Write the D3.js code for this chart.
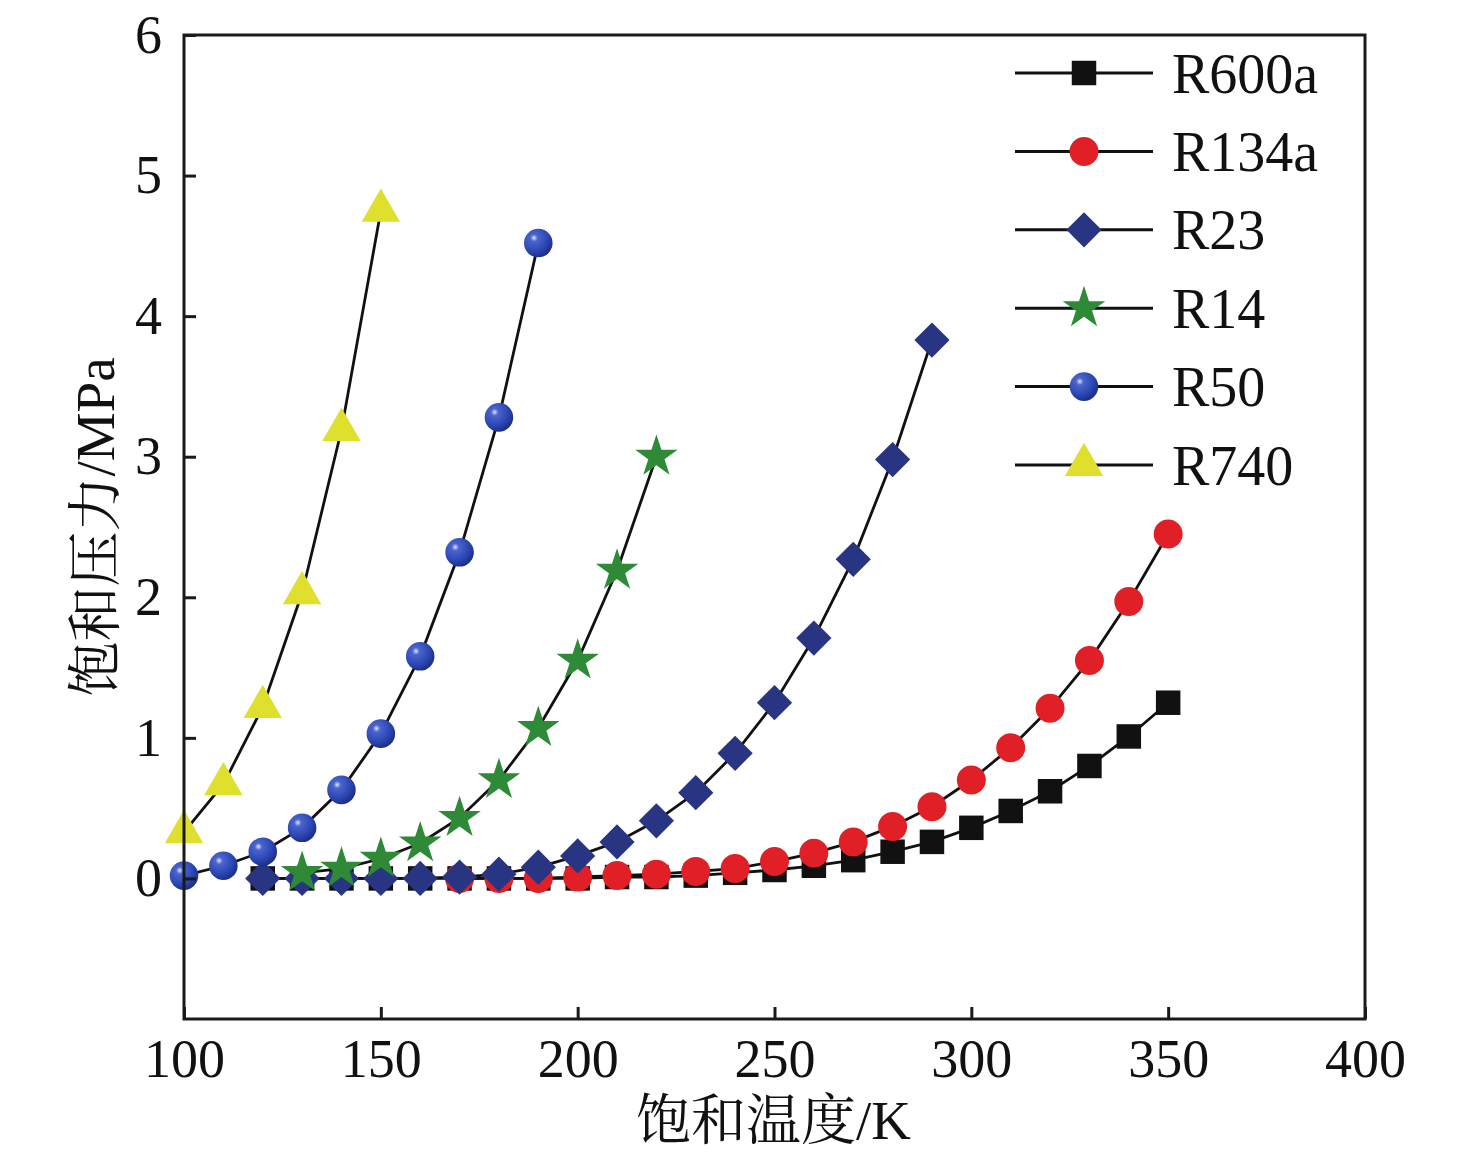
<!DOCTYPE html>
<html>
<head>
<meta charset="utf-8">
<script src="https://cdn.jsdelivr.net/npm/d3@7"></script>
<style>
  body { margin: 0; background: #fff; }
  text { font-family: "Liberation Serif", "Times New Roman", serif; fill: #111; }
  .cn { font-family: "Liberation Serif", "Noto Serif CJK SC", "Noto Sans CJK SC", serif; }
</style>
</head>
<body>
<div class="chart"></div>
<script>
// saturation pressure vs temperature
var seriesNames = ["R600a", "R134a", "R23", "R14", "R50", "R740"];

var tR600a = [120, 130, 140, 150, 160, 170, 180, 190, 200, 210, 220, 230, 240, 250, 260, 270, 280, 290, 300, 310, 320, 330, 340, 350];
var pR600a = [0, 0, 0, 0, 0, 0, 0, 0, 0, 0.01, 0.01, 0.02, 0.04, 0.06, 0.09, 0.13, 0.19, 0.26, 0.36, 0.48, 0.62, 0.80, 1.01, 1.25];

var tR134a = [170, 180, 190, 200, 210, 220, 230, 240, 250, 260, 270, 280, 290, 300, 310, 320, 330, 340, 350];
var pR134a = [0, 0, 0, 0.01, 0.02, 0.03, 0.05, 0.07, 0.12, 0.18, 0.26, 0.37, 0.51, 0.70, 0.93, 1.21, 1.55, 1.97, 2.45];

var tR23 = [120, 130, 140, 150, 160, 170, 180, 190, 200, 210, 220, 230, 240, 250, 260, 270, 280, 290];
var pR23 = [0, 0, 0, 0, 0, 0.01, 0.03, 0.08, 0.16, 0.26, 0.41, 0.61, 0.89, 1.25, 1.71, 2.27, 2.98, 3.83];

var tR14 = [130, 140, 150, 160, 170, 180, 190, 200, 210, 220];
var pR14 = [0.04, 0.07, 0.14, 0.25, 0.43, 0.70, 1.07, 1.55, 2.19, 3.00];

var tR50 = [100, 110, 120, 130, 140, 150, 160, 170, 180, 190];
var pR50 = [0.02, 0.09, 0.19, 0.36, 0.63, 1.03, 1.58, 2.32, 3.28, 4.52];

var tR740 = [100, 110, 120, 130, 140, 150];
var pR740 = [0.33, 0.67, 1.22, 2.03, 3.19, 4.75];

var xTicks = [100, 150, 200, 250, 300, 350, 400];
var yTicks = [0, 1, 2, 3, 4, 5, 6];

var temps = [tR600a, tR134a, tR23, tR14, tR50, tR740];
var press = [pR600a, pR134a, pR23, pR14, pR50, pR740];

var colors = ["#111111", "#e02026", "#283583", "#2e8a36", "#2a45b0", "#dfe02e"];
var shapes = [d3.symbolSquare, d3.symbolCircle, d3.symbolSquare, d3.symbolStar, d3.symbolCircle, d3.symbolTriangle];
var sizes = [600, 660, 620, 560, 640, 640];
var rotations = [0, 0, 45, 0, 0, 0];

var margins = { top: 35, right: 111, bottom: 142, left: 184 };
var width = 1476 - margins.left - margins.right;
var height = 1161 - margins.top - margins.bottom;

var x = d3.scaleLinear().domain([100, 400]).range([0, width]);
var y = d3.scaleLinear().domain([-1, 6]).range([height, 0]);

var svgRoot = d3.select(".chart").append("svg")
    .attr("width", 1476)
    .attr("height", 1161);

// sphere look for the R50 markers
var grad = svgRoot.append("defs").append("radialGradient")
    .attr("id", "ball")
    .attr("cx", "35%").attr("cy", "32%").attr("r", "70%");
grad.append("stop").attr("offset", "0%").attr("stop-color", "#dfe6ff");
grad.append("stop").attr("offset", "18%").attr("stop-color", "#4a64d0");
grad.append("stop").attr("offset", "70%").attr("stop-color", "#2a44b0");
grad.append("stop").attr("offset", "100%").attr("stop-color", "#1d2f85");

var svg = svgRoot.append("g")
    .attr("transform", "translate(" + margins.left + "," + margins.top + ")");

function markerFill(i) {
    return i === 4 ? "url(#ball)" : colors[i];
}

// series: lines first, markers on top
var line = d3.line()
    .x(function (d) { return x(d[0]); })
    .y(function (d) { return y(d[1]); });

for (let i = 0; i < seriesNames.length; i++) {
    let pts = temps[i].map(function (t, k) { return [t, press[i][k]]; });
    svg.append("path")
        .datum(pts)
        .attr("fill", "none")
        .attr("stroke", "#111")
        .attr("stroke-width", 2.8)
        .attr("d", line);
}

for (let i = 0; i < seriesNames.length; i++) {
    let pts = temps[i].map(function (t, k) { return [t, press[i][k]]; });
    svg.selectAll(".m" + i)
        .data(pts)
        .enter().append("path")
        .attr("class", "m" + i)
        .attr("d", d3.symbol().type(shapes[i]).size(sizes[i]))
        .attr("transform", function (d) {
            return "translate(" + x(d[0]) + "," + y(d[1]) + ") rotate(" + rotations[i] + ")";
        })
        .style("fill", markerFill(i));
}

// frame
svg.append("rect")
    .attr("width", width)
    .attr("height", height)
    .attr("fill", "none")
    .attr("stroke", "#1a1a1a")
    .attr("stroke-width", 3);

// axes with inward ticks
var xAxis = svg.append("g")
    .attr("transform", "translate(0," + height + ")")
    .call(d3.axisBottom(x).tickValues(xTicks).tickSize(-12).tickPadding(20));
var yAxis = svg.append("g")
    .call(d3.axisLeft(y).tickValues(yTicks).tickFormat(d3.format("d")).tickSize(-12).tickPadding(22));

[xAxis, yAxis].forEach(function (ax) {
    ax.select(".domain").remove();
    ax.selectAll("line").attr("stroke", "#1a1a1a").attr("stroke-width", 3);
    ax.selectAll("text")
        .style("font-family", "Liberation Serif")
        .style("font-size", "54px")
        .attr("fill", "#111");
});
xAxis.selectAll("text").attr("dy", "0.71em");

// axis titles
svg.append("text")
    .attr("class", "cn")
    .attr("x", width / 2 - 1)
    .attr("y", height + 120)
    .attr("text-anchor", "middle")
    .style("font-size", "55px")
    .text("饱和温度/K");

svg.append("text")
    .attr("class", "cn")
    .attr("transform", "translate(-70," + (y(2.5)) + ") rotate(-90)")
    .attr("text-anchor", "middle")
    .style("font-size", "55px")
    .text("饱和压力/MPa");

// legend
var legend = svg.append("g")
    .attr("transform", "translate(" + (1015 - margins.left) + "," + (73 - margins.top) + ")");

seriesNames.forEach(function (name, i) {
    var row = legend.append("g").attr("transform", "translate(0," + (i * 78.4) + ")");
    row.append("line")
        .attr("x1", 0).attr("x2", 138)
        .attr("stroke", "#111")
        .attr("stroke-width", 3);
    row.append("path")
        .attr("d", d3.symbol().type(shapes[i]).size(sizes[i]))
        .attr("transform", "translate(69,0) rotate(" + rotations[i] + ")")
        .style("fill", markerFill(i));
    row.append("text")
        .attr("x", 157)
        .attr("y", 0)
        .attr("dy", "0.35em")
        .style("font-size", "56px")
        .text(name);
});
</script>
</body>
</html>
